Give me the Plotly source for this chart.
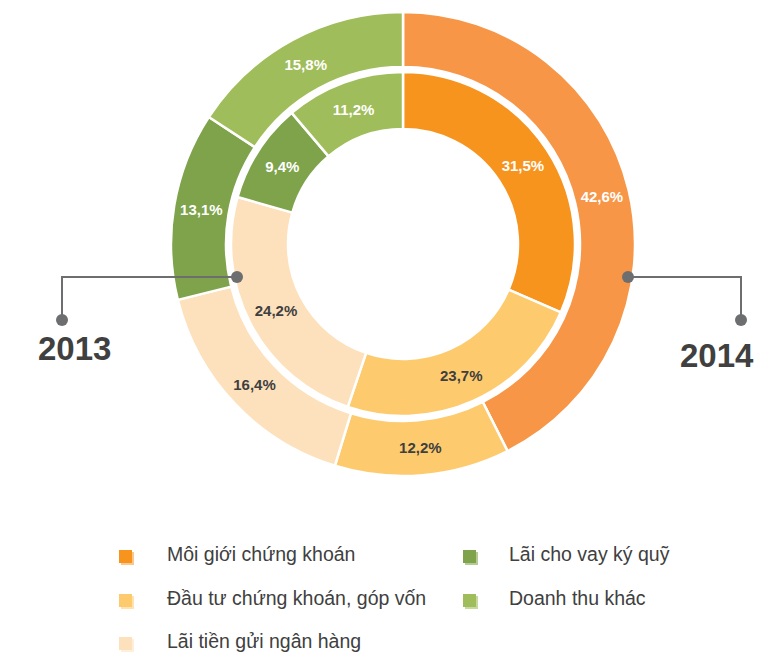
import plotly.graph_objects as go

W, H = 783, 658

categories = ["Môi giới chứng khoán", "Đầu tư chứng khoán, góp vốn",
              "Lãi tiền gửi ngân hàng", "Lãi cho vay ký quỹ", "Doanh thu khác"]
values_2014 = [42.6, 12.2, 16.4, 13.1, 15.8]   # outer ring
values_2013 = [31.5, 23.7, 24.2, 9.4, 11.2]    # inner ring
years = ["2013", "2014"]

colors_outer = ["#F79646", "#FDCB6E", "#FDE1BC", "#7EA34B", "#9FBD5A"]
colors_inner = ["#F7941E", "#FDCB6E", "#FDE1BC", "#7EA34B", "#9FBD5A"]
legend_colors = ["#F7941E", "#FDCB6E", "#FDE1BC", "#7EA34B", "#9FBD5A"]
text_colors = ["white", "#3F3F3F", "#3F3F3F", "white", "white"]
light_shadow = ["#FBC78E", "#FEE3B0", "#FEEFDA", "#B5CB94", "#C6DA9E"]

def fmt(v):
    return f"{v:.1f}%".replace(".", ",")

def px_dom(cx, cy, r):
    return dict(x=[(cx - r) / W, (cx + r) / W], y=[1 - (cy + r) / H, 1 - (cy - r) / H])

CX, CY = 403, 244
FONT = "Liberation Sans, Arial, sans-serif"

fig = go.Figure()
fig.add_trace(go.Pie(
    labels=categories, values=values_2014, sort=False, direction="clockwise", rotation=0,
    hole=177 / 232, domain=px_dom(CX, CY, 232),
    marker=dict(colors=colors_outer, line=dict(color="white", width=2.5)),
    text=[fmt(v) for v in values_2014], textinfo="text", textposition="inside",
    insidetextorientation="horizontal",
    textfont=dict(family=FONT, size=15, color=text_colors, weight="bold"),
    hoverinfo="skip", showlegend=False,
))
fig.add_trace(go.Pie(
    labels=categories, values=values_2013, sort=False, direction="clockwise", rotation=0,
    hole=115 / 172, domain=px_dom(CX, CY, 172),
    marker=dict(colors=colors_inner, line=dict(color="white", width=2.5)),
    text=[fmt(v) for v in values_2013], textinfo="text", textposition="inside",
    insidetextorientation="horizontal",
    textfont=dict(family=FONT, size=15, color=text_colors, weight="bold"),
    hoverinfo="skip", showlegend=False,
))

def px(x):
    return x / W

def py(y):
    return 1 - y / H

shapes = []
annotations = []
LINE = "#6D6E70"

# leader lines + dots
for (x0, x1, ytop, ybot) in [(237, 62, 277, 320), (628, 741, 277, 320)]:
    shapes.append(dict(type="path", xref="paper", yref="paper",
                       path=f"M {px(x0)},{py(ytop)} L {px(x1)},{py(ytop)} L {px(x1)},{py(ybot)}",
                       line=dict(color=LINE, width=2)))
    for (dx, dy) in [(x0, ytop), (x1, ybot)]:
        shapes.append(dict(type="circle", xref="paper", yref="paper",
                           x0=px(dx - 6), x1=px(dx + 6), y0=py(dy + 6), y1=py(dy - 6),
                           fillcolor=LINE, line=dict(width=0)))

for label, (x, y) in zip(years, [(74, 349), (717, 355)]):
    annotations.append(dict(text=label, x=px(x), y=py(y), xref="paper", yref="paper",
                            showarrow=False, xanchor="center", yanchor="middle",
                            font=dict(family=FONT, size=33, color="#404040", weight="bold")))

# custom legend (two columns)
legend_pos = [(119, 165, 554), (119, 165, 598), (119, 165, 641), (463, 507, 554), (463, 507, 598)]
for cat, col, sh, (mx, tx, ty) in zip(categories, legend_colors, light_shadow, legend_pos):
    my = ty + 3
    shapes.append(dict(type="rect", xref="paper", yref="paper",
                       x0=px(mx + 2), x1=px(mx + 15), y0=py(my + 8), y1=py(my - 5),
                       fillcolor=sh, line=dict(width=0)))
    shapes.append(dict(type="rect", xref="paper", yref="paper",
                       x0=px(mx), x1=px(mx + 13), y0=py(my + 6), y1=py(my - 7),
                       fillcolor=col, line=dict(width=0)))
    annotations.append(dict(text=cat, x=px(tx), y=py(ty), xref="paper", yref="paper",
                            showarrow=False, xanchor="left", yanchor="middle",
                            font=dict(family=FONT, size=19.5, color="#404040")))

fig.update_layout(
    width=W, height=H, margin=dict(l=0, r=0, t=0, b=0),
    paper_bgcolor="white", plot_bgcolor="white",
    shapes=shapes, annotations=annotations, showlegend=False,
)

fig.write_html("out.html", config={"displayModeBar": False},
               post_script="document.body.style.margin='0';document.body.style.overflow='hidden';")
